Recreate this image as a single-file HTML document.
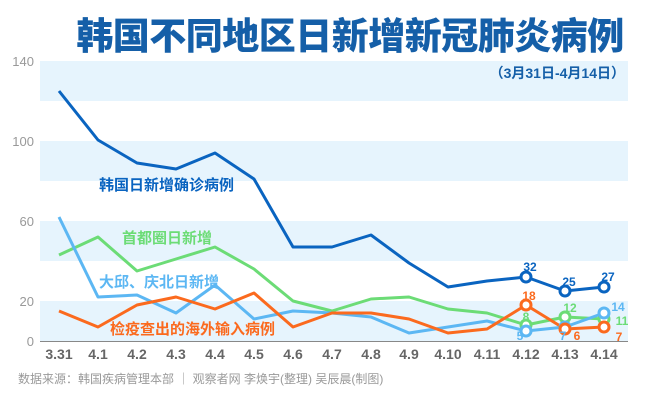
<!DOCTYPE html><html><head><meta charset="utf-8"><style>body{margin:0;background:#fff}svg{display:block}text{font-family:"Liberation Sans","Noto Sans CJK SC",sans-serif}</style></head><body>
<svg width="650" height="400" viewBox="0 0 650 400">
<g fill="#e6f4fd"><rect x="40" y="61" width="588" height="40"/><rect x="40" y="141" width="588" height="40"/><rect x="40" y="221" width="588" height="40"/><rect x="40" y="301" width="588" height="40"/></g>
<line x1="40" y1="341.5" x2="628" y2="341.5" stroke="#888" stroke-width="1"/>
<text x="350" y="49" text-anchor="middle" font-size="37" font-weight="900" fill="#155fa8" letter-spacing="-0.5" font-family="Noto Sans CJK SC,sans-serif">韩国不同地区日新增新冠肺炎病例</text>
<text x="625" y="78" text-anchor="end" font-size="14" font-weight="bold" fill="#155fa8">（3月31日-4月14日）</text>
<g font-size="13" fill="#999" text-anchor="end"><text x="34" y="66">140</text><text x="34" y="146">100</text><text x="34" y="226">60</text><text x="34" y="306">20</text><text x="34" y="346">0</text></g>
<g font-size="14" fill="#666" text-anchor="middle" font-weight="bold"><text x="59" y="359">3.31</text><text x="98" y="359">4.1</text><text x="137" y="359">4.2</text><text x="176" y="359">4.3</text><text x="215" y="359">4.4</text><text x="254" y="359">4.5</text><text x="293" y="359">4.6</text><text x="332" y="359">4.7</text><text x="371" y="359">4.8</text><text x="409" y="359">4.9</text><text x="448" y="359">4.10</text><text x="487" y="359">4.11</text><text x="526" y="359">4.12</text><text x="565" y="359">4.13</text><text x="604" y="359">4.14</text></g>
<g fill="none" stroke-width="3" stroke-linejoin="round">
<polyline stroke="#6cdc76" points="59,255 98,237 137,271 176,259 215,247 254,269 293,301 332,311 371,299 409,297 448,309 487,313 526,325 565,317 604,319"/>
<polyline stroke="#5cb7f3" points="59,217 98,297 137,295 176,313 215,285 254,319 293,311 332,313 371,317 409,333 448,327 487,321 526,331 565,327 604,313"/>
<polyline stroke="#fb6a1e" points="59,311 98,327 137,305 176,297 215,309 254,293 293,327 332,313 371,313 409,319 448,333 487,329 526,305 565,329 604,327"/>
<polyline stroke="#0a64c0" points="59,91 98,140 137,163 176,169 215,153 254,179 293,247 332,247 371,235 409,263 448,287 487,281 526,277 565,291 604,287"/>
</g>
<g fill="#fff" stroke-width="3">
<circle cx="526" cy="277" r="5" stroke="#0a64c0"/><circle cx="565" cy="291" r="5" stroke="#0a64c0"/><circle cx="604" cy="287" r="5" stroke="#0a64c0"/>
<circle cx="526" cy="325" r="5" stroke="#6cdc76"/><circle cx="565" cy="317" r="5" stroke="#6cdc76"/><circle cx="604" cy="319" r="5" stroke="#6cdc76"/>
<circle cx="526" cy="331" r="5" stroke="#5cb7f3"/><circle cx="565" cy="327" r="5" stroke="#5cb7f3"/><circle cx="604" cy="313" r="5" stroke="#5cb7f3"/>
<circle cx="526" cy="305" r="5" stroke="#fb6a1e"/><circle cx="565" cy="329" r="5" stroke="#fb6a1e"/><circle cx="604" cy="327" r="5" stroke="#fb6a1e"/>
</g>
<g font-size="12" font-weight="bold">
<text x="530" y="271" text-anchor="middle" fill="#0a64c0">32</text><text x="569" y="286" text-anchor="middle" fill="#0a64c0">25</text><text x="608" y="281" text-anchor="middle" fill="#0a64c0">27</text>
<text x="529" y="300" text-anchor="middle" fill="#fb6a1e">18</text><text x="570" y="312" text-anchor="middle" fill="#6cdc76">12</text><text x="526" y="321" text-anchor="middle" fill="#6cdc76">8</text>
<text x="520" y="340" text-anchor="middle" fill="#5cb7f3">5</text><text x="563" y="340" text-anchor="middle" fill="#5cb7f3">7</text><text x="577" y="340" text-anchor="middle" fill="#fb6a1e">6</text>
<text x="618" y="311" text-anchor="middle" fill="#5cb7f3">14</text><text x="622" y="325" text-anchor="middle" fill="#6cdc76">11</text><text x="619" y="341" text-anchor="middle" fill="#fb6a1e">7</text>
</g>
<g font-size="15" font-weight="bold">
<text x="99" y="190" fill="#0a64c0">韩国日新增确诊病例</text>
<text x="122" y="243" fill="#6cdc76">首都圈日新增</text>
<text x="99" y="287" fill="#5cb7f3">大邱、庆北日新增</text>
<text x="110" y="334" fill="#fb6a1e">检疫查出的海外输入病例</text>
</g>
<text x="18" y="383" font-size="12" fill="#999">数据来源：韩国疾病管理本部  ｜  观察者网 李焕宇(整理) 吴辰晨(制图)</text>
</svg></body></html>
